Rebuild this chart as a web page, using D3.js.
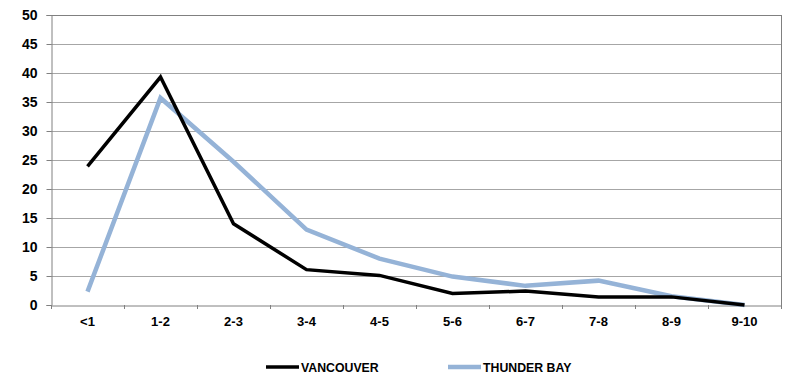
<!DOCTYPE html>
<html><head><meta charset="utf-8">
<script src="https://cdn.jsdelivr.net/npm/d3@7"></script>
<style>body{margin:0;background:#fff}svg{display:block}text{font-family:"Liberation Sans",Arial,sans-serif;font-weight:bold}</style>
</head><body>
<svg id="c" width="785" height="376"></svg>
<script>
const categories = ["<1","1-2","2-3","3-4","4-5","5-6","6-7","7-8","8-9","9-10"];
const vancouver = [23.9, 39.3, 14.0, 6.1, 5.1, 2.0, 2.4, 1.4, 1.4, 0];
const thunderBay = [2.3, 35.7, 24.7, 13.0, 8.0, 4.9, 3.3, 4.2, 1.5, 0];
const yTicks = [0,5,10,15,20,25,30,35,40,45,50];
const seriesNames = ["VANCOUVER","THUNDER BAY"];
const colors = ["#000000","#95B3D7"];

const svg = d3.select("#c");
const L=51, R=781, T=15, B=305;
const x = d3.scaleBand().domain(categories).range([L,R]);
const y = d3.scaleLinear().domain([0,50]).range([B,T]);

// gridlines
svg.append("g").selectAll("line").data(yTicks.slice(1)).join("line")
  .attr("x1",L).attr("x2",R).attr("y1",d=>y(d)+0.5).attr("y2",d=>y(d)+0.5)
  .attr("stroke","#a6a6a6").attr("stroke-width",1);
// right/top border
svg.append("line").attr("x1",R+0.5).attr("x2",R+0.5).attr("y1",T).attr("y2",B).attr("stroke","#808080");
svg.append("line").attr("x1",L).attr("x2",R).attr("y1",T+0.5).attr("y2",T+0.5).attr("stroke","#808080");

// y axis
const ya = svg.append("g").attr("transform",`translate(${L+0.5},0)`)
  .call(d3.axisLeft(y).tickValues(yTicks).tickSize(5).tickPadding(9));
ya.select(".domain").attr("stroke","#808080");
ya.selectAll(".tick line").attr("stroke","#808080");
ya.selectAll("text").attr("font-size",14).attr("fill","#000").style("font-family","'Liberation Sans',Arial,sans-serif").style("font-weight","bold");

// x axis
const xa = svg.append("g").attr("transform",`translate(0,${B+0.5})`)
  .call(d3.axisBottom(x).tickSize(0).tickPadding(11));
xa.select(".domain").attr("stroke","#808080");
xa.selectAll("text").attr("font-size",13).attr("fill","#000").style("font-family","'Liberation Sans',Arial,sans-serif").style("font-weight","bold");
svg.append("g").selectAll("line").data(d3.range(categories.length+1)).join("line")
  .attr("x1",i=>L+i*x.step()+0.5).attr("x2",i=>L+i*x.step()+0.5)
  .attr("y1",B).attr("y2",B+4).attr("stroke","#808080");

const line = d3.line().x((d,i)=>x(categories[i])+x.bandwidth()/2).y(d=>y(d));
[[thunderBay,1,4.5],[vancouver,0,3.5]].forEach(([data,ci,w])=>{
  svg.append("path").attr("d",line(data)).attr("fill","none")
    .attr("stroke",colors[ci]).attr("stroke-width",w).attr("stroke-linejoin","miter");
});

// legend
const lg = [{x:266,w:3.5},{x:448,w:4.5}];
seriesNames.forEach((n,i)=>{
  svg.append("line").attr("x1",lg[i].x).attr("x2",lg[i].x+33).attr("y1",367).attr("y2",367)
    .attr("stroke",colors[i]).attr("stroke-width",lg[i].w);
  svg.append("text").attr("x",lg[i].x+35).attr("y",371.5).attr("font-size",12.3).text(n);
});
</script>
</body></html>
